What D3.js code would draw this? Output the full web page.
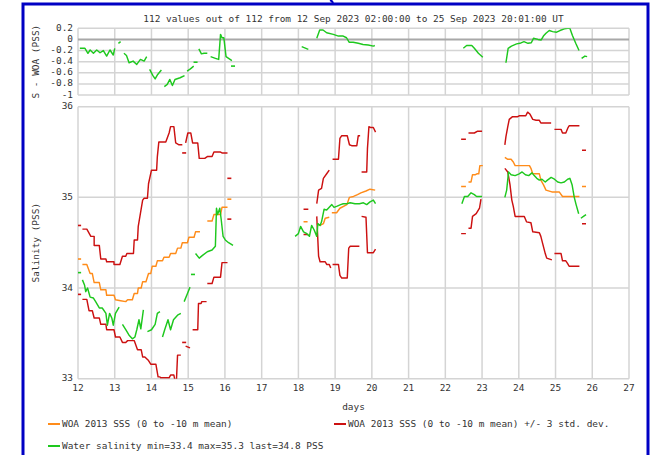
<!DOCTYPE html>
<html lang="en">
<head>
<meta charset="UTF-8">
<title>Water salinity vs WOA 2013</title>
<script src="https://d3js.org/d3.v7.min.js"></script>
<style>
  body { margin: 0; background: #fff; }
  text { font-family: 'DejaVu Sans Mono', monospace; font-size: 9.45px; fill: #333; }
  .grid { stroke: #d4d4d4; stroke-width: 1.5; }
  .zero { stroke: #a8a8a8; stroke-width: 2; }
  .series { fill: none; stroke-width: 1.45; stroke-linejoin: round; }
</style>
</head>
<body>
<svg width="652" height="455"></svg>
<script>
// [day of Sep 2023, value]; null = gap in the record
const woaMean = [
  [12.03,34.32], null,
  [12.12,34.26],[12.24,34.26],[12.33,34.16],[12.39,34.16],[12.44,34.06],[12.58,34.06],[12.62,33.98],[12.76,33.98],
  [12.78,33.92],[12.98,33.92],[13.02,33.87],[13.16,33.86],[13.3,33.85],[13.35,33.87],[13.48,33.87],[13.53,33.94],
  [13.62,33.94],[13.64,34.0],[13.72,34.0],[13.76,34.07],[13.85,34.07],[13.92,34.16],[13.98,34.16],[14.02,34.24],
  [14.12,34.24],[14.16,34.30],[14.3,34.30],[14.34,34.34],[14.48,34.34],[14.52,34.38],[14.66,34.38],[14.71,34.44],
  [14.8,34.44],[14.84,34.50],[14.98,34.50],[15.02,34.56],[15.16,34.56],[15.2,34.62],[15.32,34.62], null,
  [15.52,34.74],[15.65,34.74],[15.7,34.81],[15.88,34.81],[15.92,34.89],[16.07,34.89], null, [16.12,34.98], null,
  [18.14,34.73],[18.25,34.73], null,
  [18.5,34.71],[18.59,34.69],[18.68,34.71],[18.73,34.77],[18.84,34.78], null,
  [18.91,34.83],[19.04,34.83],[19.13,34.88],[19.32,34.92],[19.39,35.0],[19.5,35.01],[19.61,35.03],[19.7,35.05],
  [19.84,35.07],[19.95,35.09],[20.09,35.08], null,
  [22.43,35.12],[22.56,35.12], null,
  [22.63,35.17],[22.7,35.17],[22.74,35.25],[22.82,35.25],[22.86,35.26],[22.91,35.26],[22.94,35.35],[23.02,35.35], null,
  [23.62,35.44],[23.7,35.42],[23.79,35.42],[23.85,35.39],[23.9,35.35],[24.29,35.35],[24.33,35.32],[24.38,35.26],
  [24.56,35.26],[24.6,35.19],[24.67,35.14],[24.74,35.08],[24.9,35.06],[25.1,35.06],[25.19,35.01],[25.65,35.01], null,
  [25.72,35.12],[25.83,35.12]
];

const woaUpper = [
  [12.03,34.69], null,
  [12.12,34.65],[12.24,34.65],[12.35,34.57],[12.44,34.57],[12.44,34.47],[12.58,34.47],[12.62,34.32],[12.76,34.32],
  [12.78,34.29],[12.98,34.29],[12.98,34.26],[13.14,34.26],[13.21,34.35],[13.3,34.35],[13.33,34.38],[13.51,34.38],
  [13.53,34.53],[13.62,34.53],[13.64,34.68],[13.76,34.97],[13.8,34.99],[13.89,34.99],[13.92,35.15],[14.0,35.30],
  [14.14,35.30],[14.16,35.45],[14.2,35.61],[14.39,35.61],[14.48,35.71],[14.52,35.78],[14.61,35.78],[14.66,35.60],
  [14.75,35.58],[14.84,35.58], null, [14.89,35.49], null,
  [14.93,35.60],[14.99,35.71],[15.07,35.71],[15.12,35.60],[15.26,35.60],[15.3,35.43],[15.45,35.43],[15.52,35.45],
  [15.65,35.45],[15.7,35.50],[15.88,35.50],[15.92,35.49],[16.07,35.49], null, [16.12,35.21], null,
  [18.14,34.87],[18.27,34.87], null,
  [18.5,34.93],[18.55,35.08],[18.63,35.10],[18.68,35.21],[18.77,35.26],[18.84,35.30], null,
  [18.93,35.42],[19.09,35.42],[19.13,35.65],[19.18,35.68],[19.33,35.68],[19.39,35.58],[19.45,35.57],[19.59,35.57],
  [19.63,35.68],[19.68,35.68], null,
  [19.72,35.28],[19.86,35.28],[19.88,35.54],[19.92,35.78],[19.97,35.77],[20.04,35.77],[20.1,35.72], null,
  [22.43,35.64],[22.56,35.64], null,
  [22.63,35.71],[22.79,35.71],[22.88,35.73],[23.0,35.73], null,
  [23.62,35.58],[23.65,35.67],[23.7,35.78],[23.74,35.86],[23.83,35.89],[23.97,35.89],[24.01,35.90],[24.19,35.90],
  [24.24,35.94],[24.3,35.92],[24.38,35.86],[24.47,35.85],[24.56,35.85],[24.6,35.82],[24.88,35.82], null,
  [24.97,35.75],[25.15,35.75],[25.19,35.71],[25.28,35.71],[25.33,35.76],[25.37,35.79],[25.65,35.79], null,
  [25.72,35.52],[25.83,35.52]
];

const woaLower = [
  [12.03,33.93], null,
  [12.12,33.875],[12.24,33.875],[12.3,33.75],[12.39,33.75],[12.44,33.67],[12.58,33.67],[12.62,33.60],[12.76,33.60],
  [12.78,33.54],[12.98,33.54],[13.02,33.46],[13.14,33.46],[13.21,33.40],[13.3,33.40],[13.35,33.42],[13.53,33.42],
  [13.62,33.32],[13.72,33.32],[13.76,33.24],[13.82,33.24],[13.92,33.20],[13.98,33.16],[14.12,33.16],[14.18,33.02],
  [14.23,33.02],[14.25,33.01],[14.48,33.01],[14.52,33.04],[14.61,33.04],[14.64,32.98],[14.68,32.98],[14.71,33.26],
  [14.8,33.26], null, [14.89,33.40], null,
  [14.93,33.36],[15.05,33.34], null,
  [15.12,33.54],[15.26,33.54],[15.28,33.83],[15.35,33.83],[15.37,33.85],[15.5,33.85], null,
  [15.52,34.05],[15.65,34.05],[15.7,34.12],[15.88,34.12],[15.92,34.28],[16.07,34.28], null, [16.12,34.76], null,
  [18.14,34.59],[18.27,34.59], null,
  [18.5,34.79],[18.55,34.35],[18.59,34.29],[18.73,34.29],[18.77,34.26],[18.84,34.26],[18.88,34.22], null,
  [18.93,34.26],[19.09,34.26],[19.13,34.14],[19.18,34.11],[19.33,34.11],[19.37,34.44],[19.41,34.46],[19.66,34.46], null,
  [19.72,34.79],[19.84,34.78],[19.88,34.39],[19.92,34.39],[20.04,34.39],[20.1,34.43], null,
  [22.43,34.60],[22.56,34.60], null,
  [22.63,34.66],[22.7,34.66],[22.74,34.79],[22.84,34.82],[22.93,34.88],[22.97,34.98], null,
  [23.62,35.32],[23.7,35.28],[23.76,35.14],[23.81,34.97],[23.85,34.90],[23.9,34.79],[24.15,34.79],[24.21,34.73],
  [24.33,34.72],[24.38,34.62],[24.56,34.61],[24.6,34.57],[24.65,34.49],[24.72,34.38],[24.76,34.33],[24.9,34.31], null,
  [24.97,34.38],[25.15,34.38],[25.19,34.30],[25.28,34.30],[25.33,34.27],[25.37,34.24],[25.65,34.24], null,
  [25.72,34.71],[25.83,34.71]
];

const salinity = [
  [12.03,34.17], null,
  [12.12,34.09],[12.18,34.03],[12.21,33.96],[12.26,34.0],[12.33,33.9],[12.42,33.89],[12.48,33.85],[12.58,33.78],
  [12.66,33.78],[12.76,33.72],[12.8,33.59],[12.86,33.72],[12.92,33.67],[12.96,33.59],[13.02,33.72],[13.12,33.79], null,
  [13.21,33.60],[13.3,33.54],[13.39,33.48],[13.48,33.44],[13.55,33.46],[13.6,33.54],[13.66,33.65],[13.71,33.55],[13.78,33.76], null,
  [13.89,33.52],[14.0,33.54],[14.1,33.60],[14.16,33.72],[14.23,33.74], null,
  [14.3,33.46],[14.36,33.54],[14.45,33.65],[14.52,33.54],[14.6,33.65],[14.71,33.70],[14.8,33.72], null,
  [14.89,33.85],[14.98,33.94],[15.05,34.01], null, [15.13,34.15], null,
  [15.2,34.38],[15.3,34.33],[15.39,34.36],[15.52,34.40],[15.65,34.42],[15.74,34.46],[15.77,34.88],[15.8,34.81],
  [15.86,34.88],[15.9,34.75],[15.95,34.57],[16.01,34.53],[16.1,34.50],[16.22,34.47], null,
  [17.91,34.57],[18.0,34.60],[18.06,34.68],[18.14,34.62],[18.23,34.60],[18.3,34.57],[18.36,34.69],[18.43,34.64],
  [18.5,34.57],[18.53,34.71],[18.59,34.69],[18.63,34.73],[18.7,34.87],[18.77,34.86],[18.84,34.89],[18.91,34.92],
  [18.97,34.89],[19.04,34.90],[19.15,34.92],[19.22,34.93],[19.32,34.93],[19.41,34.94],[19.54,34.93],[19.66,34.93],
  [19.77,34.94],[19.86,34.92],[19.95,34.95],[20.04,34.97],[20.1,34.93], null,
  [22.45,34.93],[22.52,35.01],[22.61,35.01],[22.7,35.05],[22.79,35.03],[22.85,35.01],[22.94,35.01],[23.0,35.01], null,
  [23.62,35.0],[23.67,35.08],[23.72,35.28],[23.79,35.25],[23.9,35.24],[24.01,35.26],[24.09,35.28],[24.18,35.25],
  [24.27,35.24],[24.36,35.27],[24.42,35.24],[24.49,35.21],[24.56,35.19],[24.63,35.20],[24.72,35.17],[24.78,35.19],
  [24.88,35.22],[24.97,35.20],[25.06,35.17],[25.15,35.16],[25.24,35.17],[25.33,35.20],[25.39,35.21],[25.45,35.14],
  [25.51,35.0],[25.56,34.92],[25.63,34.82], null,
  [25.69,34.77],[25.76,34.79],[25.83,34.81]
];

// salinity minus WOA mean, top panel
const diffWoa = [
  [12.05,-0.16],[12.19,-0.16],[12.27,-0.25],[12.33,-0.19],[12.42,-0.25],[12.51,-0.19],[12.6,-0.24],[12.69,-0.2],
  [12.78,-0.3],[12.87,-0.19],[12.96,-0.28],[13.0,-0.16], null,
  [13.1,-0.07],[13.16,-0.04], null,
  [13.25,-0.25],[13.32,-0.29],[13.39,-0.42],[13.5,-0.39],[13.6,-0.45],[13.7,-0.36],[13.8,-0.39],[13.87,-0.31], null,
  [13.95,-0.54],[14.04,-0.65],[14.1,-0.71],[14.17,-0.63],[14.27,-0.55], null,
  [14.35,-0.85],[14.43,-0.81],[14.5,-0.72],[14.57,-0.83],[14.64,-0.72],[14.78,-0.69],[14.9,-0.65], null,
  [14.97,-0.57],[15.06,-0.53],[15.15,-0.48], null, [15.2,-0.41], null,
  [15.29,-0.17],[15.36,-0.26],[15.43,-0.25],[15.52,-0.25], null,
  [15.61,-0.31],[15.74,-0.34],[15.83,-0.36],[15.88,0.09],[15.92,0.03],[15.97,0.03],[16.03,-0.31],[16.1,-0.34],[16.19,-0.38], null,
  [16.22,-0.48], null,
  [18.09,-0.13],[18.27,-0.18], null,
  [18.5,0.02],[18.58,0.17],[18.67,0.17],[18.77,0.12],[18.95,0.09],[19.09,0.06],[19.22,0.06],[19.31,0.03],
  [19.38,-0.05],[19.49,-0.05],[19.63,-0.07],[19.76,-0.09],[19.9,-0.1],[20.04,-0.12],[20.08,-0.11], null,
  [22.49,-0.16],[22.58,-0.11],[22.72,-0.11],[22.79,-0.16],[22.9,-0.25],[23.02,-0.32], null,
  [23.65,-0.42],[23.71,-0.16],[23.8,-0.12],[23.94,-0.08],[24.03,-0.07],[24.14,-0.04],[24.25,-0.07],[24.34,-0.06],
  [24.4,0.02],[24.52,0.0],[24.61,-0.01],[24.67,0.06],[24.74,0.11],[24.83,0.16],[24.92,0.14],[25.03,0.13],
  [25.12,0.16],[25.24,0.19],[25.33,0.2],[25.39,0.2],[25.46,0.07],[25.55,-0.07],[25.64,-0.2], null,
  [25.71,-0.34],[25.8,-0.3],[25.86,-0.31]
];

const dayTicks = d3.range(12, 28);
const salTicks = [33, 34, 35, 36];
const diffTicks = [0.2, 0, -0.2, -0.4, -0.6, -0.8, -1];
const title = "112 values out of 112 from 12 Sep 2023 02:00:00 to 25 Sep 2023 20:01:00 UT";
const legendItems = [
  { label: "WOA 2013 SSS (0 to -10 m mean)", color: "#ff8c1a" },
  { label: "WOA 2013 SSS (0 to -10 m mean) +/- 3 std. dev.", color: "#cc1111" },
  { label: "Water salinity min=33.4 max=35.3 last=34.8 PSS", color: "#1ec81e" }
];

const svg = d3.select("svg");
const left = 78, right = 629;

const x = d3.scaleLinear().domain([12, 27]).range([left, right]);
const yMain = d3.scaleLinear().domain([33, 36]).range([378.7, 106.7]);
const yTop = d3.scaleLinear().domain([-1, 0.2]).range([95, 28.3]);

// blue frame around the picture
svg.append("rect")
  .attr("x", 23).attr("y", 4).attr("width", 625).attr("height", 480)
  .attr("fill", "none").attr("stroke", "#0000c4").attr("stroke-width", 3);
svg.append("path").attr("d", "M330,0 Q333,1 333,4")
  .attr("fill", "none").attr("stroke", "#0000c4").attr("stroke-width", 2);

svg.append("text").attr("x", (left + right) / 2).attr("y", 19)
  .attr("text-anchor", "middle").attr("dominant-baseline", "middle").text(title);

const defs = svg.append("defs");
function clip(id, y) {
  defs.append("clipPath").attr("id", id).append("rect")
    .attr("x", left).attr("y", y.range()[1]).attr("width", right - left)
    .attr("height", y.range()[0] - y.range()[1]);
}
clip("clipTop", yTop);
clip("clipMain", yMain);

function panel(y, ticks) {
  const g = svg.append("g");
  g.selectAll(".v").data(dayTicks).join("line").attr("class", "grid")
    .attr("x1", d => x(d)).attr("x2", d => x(d))
    .attr("y1", y.range()[1]).attr("y2", y.range()[0]);
  g.selectAll(".h").data(ticks).join("line")
    .attr("class", d => d === 0 ? "zero" : "grid")
    .attr("x1", left).attr("x2", right)
    .attr("y1", d => y(d)).attr("y2", d => y(d));
  g.selectAll("text").data(ticks).join("text")
    .attr("x", 73).attr("y", d => y(d))
    .attr("text-anchor", "end").attr("dominant-baseline", "middle")
    .text(d => d);
  return g;
}
panel(yTop, diffTicks);
panel(yMain, salTicks);

function drawSeries(data, y, color, clipId) {
  const g = svg.append("g").attr("clip-path", `url(#${clipId})`);
  const line = d3.line().defined(d => d !== null).x(d => x(d[0])).y(d => y(d[1]));
  g.append("path").datum(data).attr("class", "series").attr("stroke", color).attr("d", line);
  // lone samples between gaps
  const lone = data.filter((d, i) => d !== null && !data[i - 1] && !data[i + 1]);
  g.selectAll("rect").data(lone).join("rect")
    .attr("x", d => x(d[0]) - 2).attr("y", d => y(d[1]) - 0.8)
    .attr("width", 4).attr("height", 1.6).attr("fill", color);
}
drawSeries(diffWoa, yTop, legendItems[2].color, "clipTop");
drawSeries(woaMean, yMain, legendItems[0].color, "clipMain");
drawSeries(woaUpper, yMain, legendItems[1].color, "clipMain");
drawSeries(woaLower, yMain, legendItems[1].color, "clipMain");
drawSeries(salinity, yMain, legendItems[2].color, "clipMain");

svg.append("g").selectAll("text").data(dayTicks).join("text")
  .attr("x", d => x(d)).attr("y", 388)
  .attr("text-anchor", "middle").attr("dominant-baseline", "middle").text(d => d);
svg.append("text").attr("x", (left + right) / 2).attr("y", 407)
  .attr("text-anchor", "middle").attr("dominant-baseline", "middle").text("days");

svg.append("text").attr("transform", `translate(36,${(yTop.range()[0] + yTop.range()[1]) / 2}) rotate(-90)`)
  .attr("text-anchor", "middle").attr("dominant-baseline", "middle").text("S - WOA (PSS)");
svg.append("text").attr("transform", `translate(36,${(yMain.range()[0] + yMain.range()[1]) / 2}) rotate(-90)`)
  .attr("text-anchor", "middle").attr("dominant-baseline", "middle").text("Salinity (PSS)");

const legendPos = [[48, 424], [334, 424], [48, 446]];
const lg = svg.append("g").selectAll("g").data(legendItems).join("g")
  .attr("transform", (d, i) => `translate(${legendPos[i][0]},${legendPos[i][1]})`);
lg.append("line").attr("x1", 0).attr("x2", 12).attr("stroke", d => d.color).attr("stroke-width", 2);
lg.append("text").attr("x", 14).attr("dominant-baseline", "middle").text(d => d.label);
</script>
</body>
</html>
